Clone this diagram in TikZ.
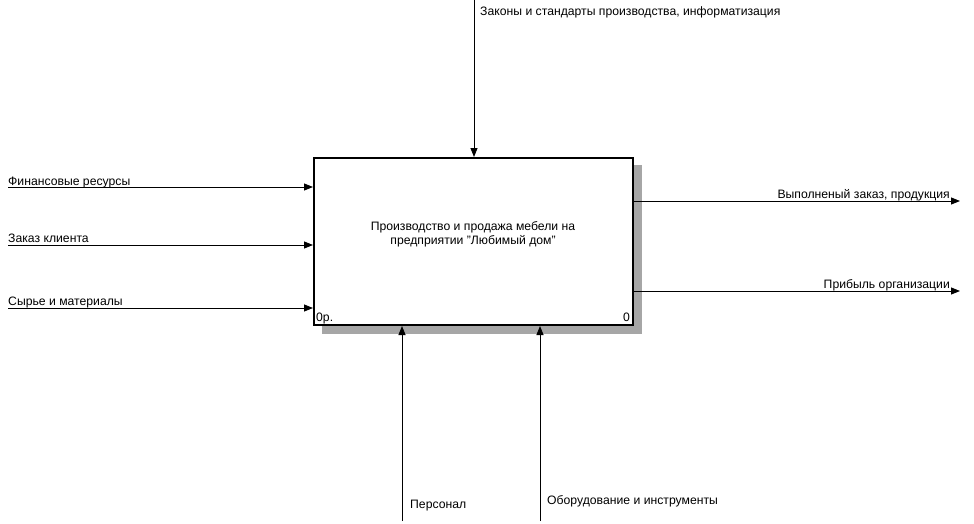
\documentclass[tikz,border=0pt]{standalone}
\usepackage{fontspec}
\setmainfont{Liberation Sans}
\usetikzlibrary{arrows.meta,patterns}
\begin{document}
\begin{tikzpicture}[x=1pt,y=-1pt,
  arr/.style={line width=0.9pt,-{Triangle[length=9pt,width=7pt]}},
  lbl/.style={font=\fontsize{12.2}{14}\selectfont,inner sep=0pt},
  shd/.style={fill=black!35,draw=none}]
\useasboundingbox (0,0) rectangle (974,524);
% shadow
\fill[shd] (632,165) rectangle (642,334);
\fill[shd] (322,324) rectangle (642,334);
\node[draw,line width=2pt,fill=white,minimum width=319pt,minimum height=167pt,anchor=north west,inner sep=0pt] (box) at (313,157) {};
\node[lbl,align=center] (t) at (473,234) {Производство и продажа мебели на\\предприятии "Любимый дом"};
\node[lbl,anchor=base west] (num) at (316,321) {0р.};
\node[lbl,anchor=base east] (z) at (630,321) {0};
% top control
\coordinate (c0) at (474,0);
\draw[arr] (c0) -- (box.north -| c0);
\node[lbl,anchor=base west] (lc) at (480,16) {Законы и стандарты производства, информатизация};
% inputs
\coordinate (i1) at (8,187);
\coordinate (i2) at (8,245);
\coordinate (i3) at (8,308);
\draw[arr] (i1) -- (box.west |- i1);
\draw[arr] (i2) -- (box.west |- i2);
\draw[arr] (i3) -- (box.west |- i3);
\node[lbl,anchor=base west] (li1) at (8,185) {Финансовые ресурсы};
\node[lbl,anchor=base west] (li2) at (8,242) {Заказ клиента};
\node[lbl,anchor=base west] (li3) at (8,305) {Сырье и материалы};
% outputs
\coordinate (o1) at (960,201);
\coordinate (o2) at (960,291);
\draw[arr] (box.east |- o1) -- (o1);
\draw[arr] (box.east |- o2) -- (o2);
\node[lbl,anchor=base east] (lo1) at (950,198) {Выполненый заказ, продукция};
\node[lbl,anchor=base east] (lo2) at (950,288) {Прибыль организации};
% mechanisms
\coordinate (m1) at (402,521);
\coordinate (m2) at (540,521);
\draw[arr] (m1) -- (box.south -| m1);
\draw[arr] (m2) -- (box.south -| m2);
\node[lbl,anchor=base west] (lm1) at (410,508) {Персонал};
\node[lbl,anchor=base west] (lm2) at (547,504) {Оборудование и инструменты};
\end{tikzpicture}
\end{document}
